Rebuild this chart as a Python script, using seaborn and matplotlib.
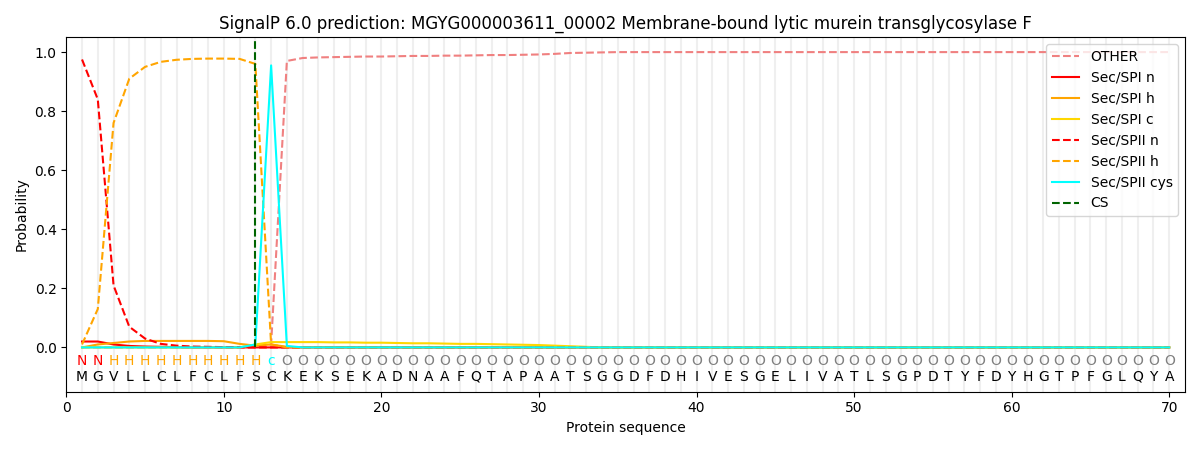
import numpy as np
import pandas as pd
import matplotlib
matplotlib.use("Agg")
import matplotlib.pyplot as plt
import seaborn as sns

sequence = list("MGVLLCLFCLFSCKEKSEKADNAAFQTAPAATSGGDFDHIVESGELIVATLSGPDTYFDYHGTPFGLQYA")
regions = list("NNHHHHHHHHHHc") + ["O"] * 57
positions = np.arange(1, len(sequence) + 1)

other = [0.0] * 12 + [0.01, 0.97, 0.98, 0.982, 0.983, 0.984, 0.985, 0.985, 0.986, 0.987,
         0.987, 0.988, 0.988, 0.989, 0.99, 0.99, 0.991, 0.992, 0.994, 0.997, 0.998, 0.999] + [1.0] * 36
spi_n = [0.02, 0.02, 0.01, 0.005, 0.003, 0.002, 0.001] + [0.0] * 63
spi_h = [0.0, 0.01, 0.015, 0.02, 0.022, 0.022, 0.022, 0.022, 0.022, 0.021, 0.012, 0.006,
         0.01, 0.002] + [0.0] * 56
spi_c = [0.0] * 11 + [0.01, 0.018, 0.018, 0.018, 0.018, 0.017, 0.017, 0.016, 0.016, 0.015,
         0.014, 0.014, 0.013, 0.012, 0.012, 0.011, 0.01, 0.009, 0.008, 0.006, 0.004, 0.002] + [0.0] * 37
spii_n = [0.975, 0.84, 0.21, 0.07, 0.03, 0.012, 0.006, 0.003, 0.002, 0.001, 0.001, 0.0] + [0.0] * 58
spii_h = [0.01, 0.13, 0.76, 0.91, 0.95, 0.967, 0.974, 0.977, 0.978, 0.978, 0.977, 0.96,
          0.01, 0.0] + [0.0] * 56
spii_cys = [0.0] * 11 + [0.01, 0.955, 0.005] + [0.0] * 56
cs_pos = 12

series = {
    "OTHER": (other, "lightcoral", "--"),
    "Sec/SPI n": (spi_n, "red", "-"),
    "Sec/SPI h": (spi_h, "orange", "-"),
    "Sec/SPI c": (spi_c, "gold", "-"),
    "Sec/SPII n": (spii_n, "red", "--"),
    "Sec/SPII h": (spii_h, "orange", "--"),
    "Sec/SPII cys": (spii_cys, "cyan", "-"),
}
region_colors = {"N": "red", "H": "orange", "c": "cyan", "O": "grey"}

fig, ax = plt.subplots(figsize=(12, 4.5), dpi=100)

for p in positions:
    ax.axvline(p, color="lightgrey", alpha=0.35, linewidth=1.5, zorder=0)

for name, (vals, color, ls) in series.items():
    df = pd.DataFrame({"pos": positions, "prob": vals})
    sns.lineplot(data=df, x="pos", y="prob", color=color, linestyle=ls,
                 label=name, ax=ax, linewidth=1.5)

ax.vlines(cs_pos, 0, 1.04, colors="darkgreen", linestyles="--", label="CS", linewidth=1.5)

for p, aa, r in zip(positions, sequence, regions):
    ax.text(p, -0.047, r, color=region_colors[r], ha="center", va="center", fontsize=10)
    ax.text(p, -0.1, aa, color="black", ha="center", va="center", fontsize=10)

ax.set_xlim(0, 71)
ax.set_ylim(-0.15, 1.05)
ax.set_xlabel("Protein sequence")
ax.set_ylabel("Probability")
ax.set_title("SignalP 6.0 prediction: MGYG000003611_00002 Membrane-bound lytic murein transglycosylase F")
ax.legend(loc="upper right")
fig.tight_layout()
fig.savefig("out.png", dpi=100)
